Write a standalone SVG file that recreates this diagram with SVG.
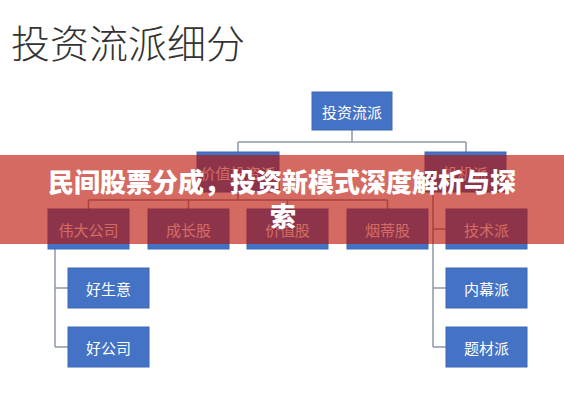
<svg xmlns="http://www.w3.org/2000/svg" width="564" height="400" viewBox="0 0 564 400">
<style>
.box{fill:#4472C4;stroke:#3D68B5;stroke-width:1}
.lbl{font-family:"Noto Sans CJK SC","Microsoft YaHei",sans-serif;font-size:15px;fill:#FFFFFF;text-anchor:middle;dominant-baseline:central}
.ln{stroke:#8C98A6;stroke-width:1.5;fill:none}
.ttl{font-family:"Noto Sans CJK SC",sans-serif;font-size:39px;font-weight:300;fill:#333333}
.ban{font-family:"Noto Sans CJK SC",sans-serif;font-size:26px;font-weight:900;fill:#FFFFFF;text-anchor:middle}
</style>
<rect width="564" height="400" fill="#FFFFFF"/>
<text class="ttl" x="11" y="58">投资流派细分</text>
<g id="connectors">
<path class="ln" d="M352 130V142M238 142H466M238 142V152M466 142V152"/>
<path class="ln" d="M238 192V200M88.5 200H387.5M88.5 200V209M188.5 200V209M287.5 200V209M387.5 200V209"/>
<path class="ln" d="M55 249V347M55 288H68M55 347H68"/>
<path class="ln" d="M433 192V347M433 229H446M433 288H446M433 347H446"/>
</g>
<g id="n-root"><rect class="box" x="312" y="92" width="80" height="38"/><text class="lbl" x="352" y="111">投资流派</text></g>
<g id="n-value"><rect class="box" x="197" y="152" width="82" height="40"/><text class="lbl" x="238" y="172">价值投资派</text></g>
<g id="n-spec"><rect class="box" x="425" y="152" width="81" height="40"/><text class="lbl" x="465.5" y="172">投机派</text></g>
<g id="n-great"><rect class="box" x="48" y="209" width="81" height="40"/><text class="lbl" x="88.5" y="229">伟大公司</text></g>
<g id="n-growth"><rect class="box" x="148" y="209" width="81" height="40"/><text class="lbl" x="188.5" y="229">成长股</text></g>
<g id="n-valstock"><rect class="box" x="247" y="209" width="81" height="40"/><text class="lbl" x="287.5" y="229">价值股</text></g>
<g id="n-cigar"><rect class="box" x="347" y="209" width="81" height="40"/><text class="lbl" x="387.5" y="229">烟蒂股</text></g>
<g id="n-tech"><rect class="box" x="446" y="209" width="81" height="40"/><text class="lbl" x="486.5" y="229">技术派</text></g>
<g id="n-goodbiz"><rect class="box" x="68" y="268" width="81" height="40"/><text class="lbl" x="108.5" y="288">好生意</text></g>
<g id="n-goodco"><rect class="box" x="68" y="327" width="81" height="40"/><text class="lbl" x="108.5" y="347">好公司</text></g>
<g id="n-insider"><rect class="box" x="446" y="268" width="81" height="40"/><text class="lbl" x="486.5" y="288">内幕派</text></g>
<g id="n-theme"><rect class="box" x="446" y="327" width="81" height="40"/><text class="lbl" x="486.5" y="347">题材派</text></g>
<g id="banner">
<rect x="0" y="155" width="564" height="89" fill="#BA0E00" fill-opacity="0.62"/>
<text class="ban" x="282" y="192">民间股票分成，投资新模式深度解析与探</text>
<text class="ban" x="283" y="226">索</text>
</g>
</svg>
